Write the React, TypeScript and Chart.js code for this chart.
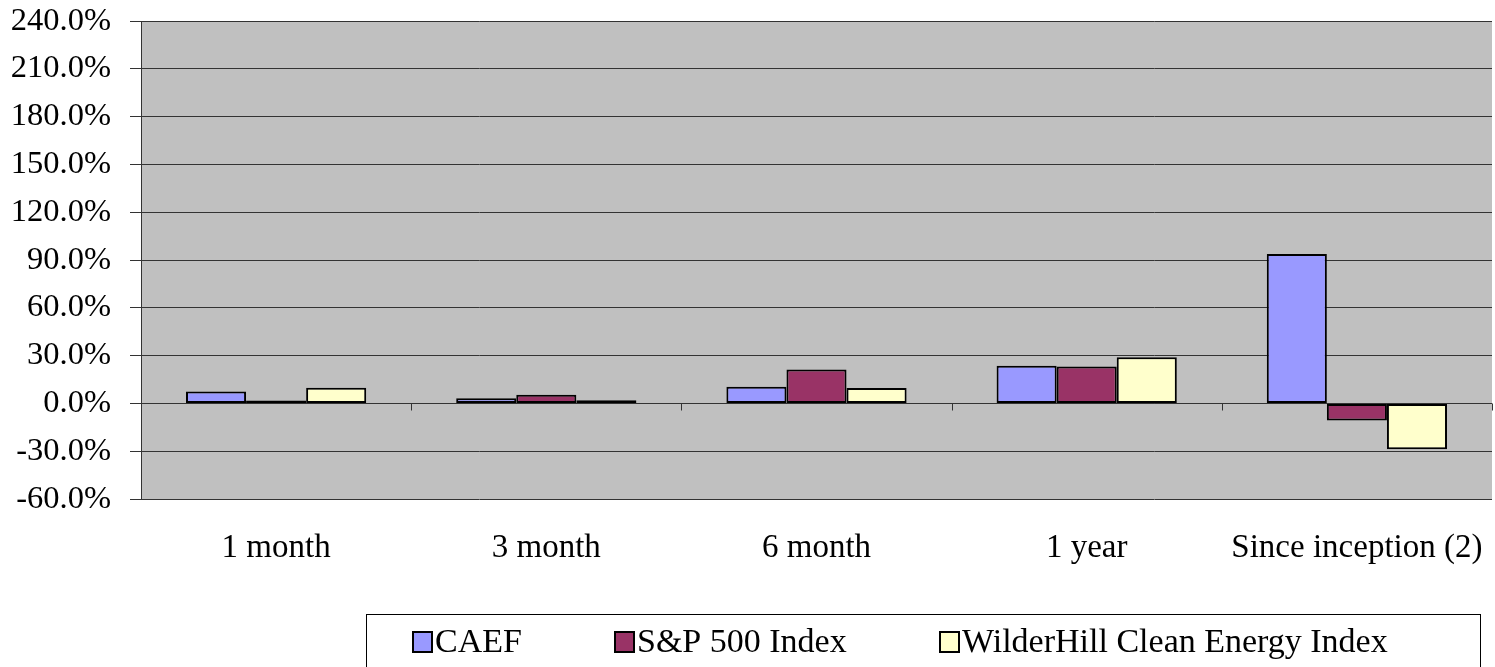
import React, { useEffect, useRef } from "react";
import { Chart, registerables } from "chart.js";

Chart.register(...registerables);

const categories = ["1 month", "3 month", "6 month", "1 year", "Since inception (2)"];
const caef = [7.4, 3.3, 10.5, 23.7, 93.8];
const sp500 = [1.8, 5.5, 21.2, 23.1, -10.8];
const wilderhill = [9.9, 2.0, 9.7, 29.0, -28.8];
const seriesNames = ["CAEF", "S&P 500 Index", "WilderHill Clean Energy Index"];
const seriesColors = ["#9999FF", "#993366", "#FFFFCC"];
const yMin = -60;
const yMax = 240;
const yStep = 30;

const FONT = "'Liberation Serif', 'Times New Roman', serif";

const plotBg = {
  id: "plotBg",
  beforeDraw(chart: any) {
    const { ctx, chartArea } = chart;
    ctx.save();
    ctx.fillStyle = "#C0C0C0";
    ctx.fillRect(chartArea.left, chartArea.top, chartArea.right - chartArea.left, chartArea.bottom - chartArea.top);
    ctx.restore();
  },
};

const catTicks = {
  id: "catTicks",
  afterDatasetsDraw(chart: any) {
    const { ctx, chartArea } = chart;
    const x = chart.scales.x;
    const y = chart.scales.y;
    const y0 = Math.round(y.getPixelForValue(0)) + 0.5;
    ctx.save();
    ctx.strokeStyle = "#333";
    ctx.lineWidth = 1;
    ctx.beginPath();
    ctx.moveTo(chartArea.left, y0);
    ctx.lineTo(chartArea.right, y0);
    ctx.stroke();
    const n = categories.length;
    const w = (chartArea.right - chartArea.left) / n;
    for (let i = 0; i <= n; i++) {
      const px = Math.round(x.getPixelForValue(0) - w / 2 + i * w) + 0.5;
      ctx.beginPath();
      ctx.moveTo(px, y0);
      ctx.lineTo(px, y0 + 7);
      ctx.stroke();
    }
    ctx.restore();
  },
};

const customLegend = {
  id: "customLegend",
  afterDraw(chart: any) {
    const { ctx } = chart;
    ctx.save();
    ctx.strokeStyle = "#000";
    ctx.lineWidth = 1;
    ctx.fillStyle = "#fff";
    ctx.fillRect(366.5, 614.5, 1114, 60);
    ctx.strokeRect(366.5, 614.5, 1114, 60);
    const starts = [413, 615, 940];
    ctx.font = `34px ${FONT}`;
    ctx.textBaseline = "middle";
    ctx.textAlign = "left";
    for (let i = 0; i < seriesNames.length; i++) {
      const sx = starts[i];
      ctx.fillStyle = seriesColors[i];
      ctx.fillRect(sx, 632, 19, 20);
      ctx.lineWidth = 2;
      ctx.strokeStyle = "#000";
      ctx.strokeRect(sx, 632, 19, 20);
      ctx.fillStyle = "#000";
      ctx.fillText(seriesNames[i], sx + 22, 643);
    }
    ctx.restore();
  },
};

export default function App() {
  const ref = useRef<HTMLCanvasElement | null>(null);
  useEffect(() => {
    if (!ref.current) return;
    const chart = new Chart(ref.current, {
      type: "bar",
      data: {
        labels: categories,
        datasets: [caef, sp500, wilderhill].map((d, i) => ({
          label: seriesNames[i],
          data: d,
          backgroundColor: seriesColors[i],
          borderColor: "#000",
          borderWidth: 2,
          borderSkipped: false,
          categoryPercentage: 0.667,
          barPercentage: 1,
        })),
      },
      options: {
        responsive: false,
        animation: false,
        devicePixelRatio: 1,
        layout: { padding: { top: 21, right: 3, left: 0, bottom: 0 } },
        plugins: { legend: { display: false }, tooltip: { enabled: false } },
        scales: {
          x: {
            grid: { display: false, drawTicks: false },
            border: { display: false },
            ticks: { color: "#000", font: { family: FONT, size: 33 }, padding: 30, maxRotation: 0, autoSkip: false },
            afterFit(scale: any) {
              scale.height = 168;
              scale.paddingLeft = 0;
              scale.paddingRight = 0;
            },
          },
          y: {
            min: yMin,
            max: yMax,
            grid: { color: "#333", lineWidth: 1, tickLength: 11, drawTicks: true },
            border: { display: true, color: "#333", width: 1 },
            ticks: {
              stepSize: yStep,
              color: "#000",
              font: { family: FONT, size: 32.5 },
              padding: 19,
              callback: (v: any) => Number(v).toFixed(1) + "%",
            },
            afterFit(scale: any) {
              scale.width = 141;
              scale.paddingTop = 0;
              scale.paddingBottom = 0;
            },
          },
        },
      },
      plugins: [plotBg, catTicks, customLegend],
    });
    return () => chart.destroy();
  }, []);
  return (
    <div style={{ position: "absolute", left: 0, top: 0, width: 1495, height: 667, background: "#fff" }}>
      <canvas ref={ref} width={1495} height={667} />
    </div>
  );
}
